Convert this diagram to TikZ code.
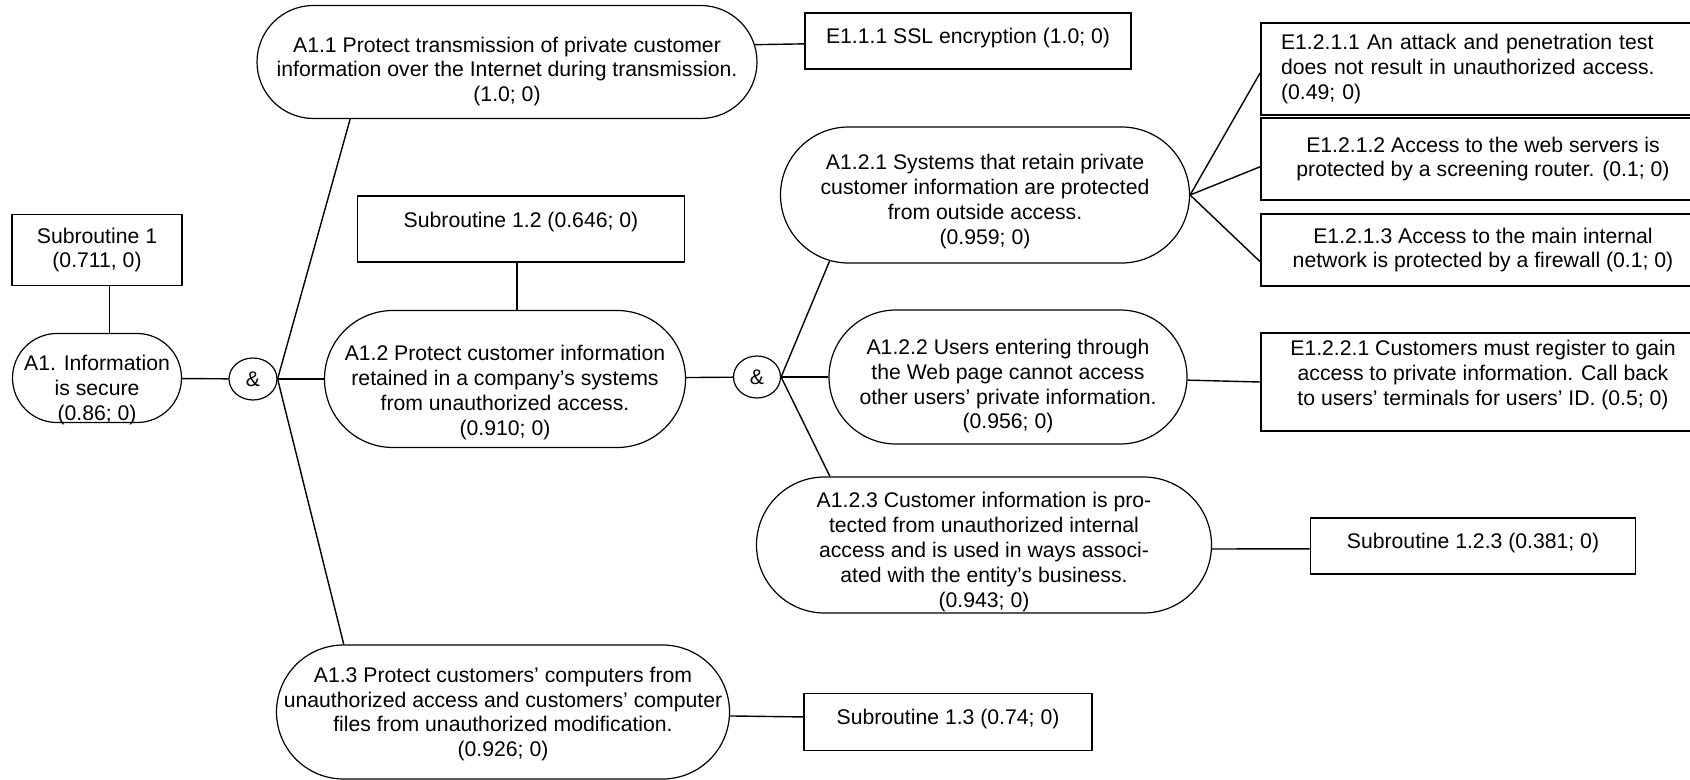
\documentclass[tikz,border=0pt]{standalone}
\usepackage{fontspec}
\setmainfont{Liberation Sans}
\usetikzlibrary{shapes.misc,shapes.geometric}

% goal text, lowered inside its stadium without changing the stadium size
\newcommand{\goaltext}[2]{\raisebox{-#1}[0pt][0pt]{\begin{tabular}{@{}c@{}}#2\end{tabular}}}
\newcommand{\padbot}[1]{\rule[-#1]{0pt}{#1}}

\tikzset{
  goal/.style={rounded rectangle, draw, line width=0.6pt, inner sep=0pt},
  evid/.style={rectangle, draw, line width=0.9pt, align=center, inner sep=0pt},
  andgate/.style={ellipse, draw, line width=0.6pt, inner sep=0pt, minimum height=21pt},
  link/.style={line width=0.7pt}
}

\begin{document}
\begin{tikzpicture}[x=0.5pt,y=-0.5pt,font=\fontsize{10.6}{12.4}\selectfont]
  \useasboundingbox (0,0) rectangle (1690,780);

  \node [evid,minimum width=85pt,minimum height=35.5pt] (sub1) at (97,250) {Subroutine 1\\(0.711, 0)};
  \node [goal,minimum width=84.5pt,minimum height=44.5pt] (a1) at (97,378) {\goaltext{9pt}{A1. Information\\is secure\\(0.86; 0)}};
  \node [andgate,minimum width=24pt] (and1) at (253,379) {\&};

  \node [goal,minimum width=250pt,minimum height=56.5pt] (a11) at (507,62)
    {\goaltext{7.7pt}{A1.1 Protect transmission of private customer\\information over the Internet during transmission.\\(1.0; 0)}};
  \node [evid,minimum width=163pt,minimum height=28pt,text depth=5pt] (e111) at (968,41) {E1.1.1 SSL encryption (1.0; 0)};

  \node [evid,minimum width=163.5pt,minimum height=33pt,text depth=9pt] (sub12) at (521,229) {Subroutine 1.2 (0.646; 0)};
  \node [goal,minimum width=180.5pt,minimum height=68.5pt] (a12) at (505,379)
    {\goaltext{9.8pt}{A1.2 Protect customer information\\retained in a company’s systems\\from unauthorized access.\\(0.910; 0)}};
  \node [andgate,minimum width=23.5pt] (and2) at (757,377) {\&};

  \node [goal,minimum width=204.5pt,minimum height=68pt] (a121) at (985,195)
    {\goaltext{6.3pt}{A1.2.1 Systems that retain private\\customer information are protected\\from outside access.\\(0.959; 0)}};
  \node [evid,minimum width=222pt,minimum height=46pt,text width=202pt,align=left] (e1211) at (1483,69)
    {E1.2.1.1 An attack and penetration test\\does not result in unauthorized access.\\(0.49; 0)};
  \node [evid,minimum width=222pt,minimum height=41pt] (e1212) at (1483,159)
    {E1.2.1.2 Access to the web servers is\\protected by a screening router. (0.1; 0)};
  \node [evid,minimum width=222pt,minimum height=36pt] (e1213) at (1483,250)
    {E1.2.1.3 Access to the main internal\\network is protected by a firewall (0.1; 0)};

  \node [goal,minimum width=179pt,minimum height=67pt] (a122) at (1008,377)
    {\goaltext{7.6pt}{A1.2.2 Users entering through\\the Web page cannot access\\other users’ private information.\\(0.956; 0)}};
  \node [evid,minimum width=222pt,minimum height=49pt] (e1221) at (1483,382)
    {E1.2.2.1 Customers must register to gain\\access to private information. Call back\\to users’ terminals for users’ ID. (0.5; 0)\padbot{9.2pt}};

  \node [goal,minimum width=227.5pt,minimum height=68pt] (a123) at (984,545)
    {\goaltext{6.5pt}{A1.2.3 Customer information is pro-\\tected from unauthorized internal\\access and is used in ways associ-\\ated with the entity’s business.\\(0.943; 0)}};
  \node [evid,minimum width=162.5pt,minimum height=28pt,text depth=5pt] (sub123) at (1473,546) {Subroutine 1.2.3 (0.381; 0)};

  \node [goal,minimum width=226.5pt,minimum height=67pt] (a13) at (503,712)
    {\goaltext{4pt}{A1.3 Protect customers’ computers from\\unauthorized access and customers’ computer\\files from unauthorized modification.\\(0.926; 0)}};
  \node [evid,minimum width=144pt,minimum height=28.5pt,text depth=5pt] (sub13) at (948,722) {Subroutine 1.3 (0.74; 0)};

  \draw [link] (sub1.-71) -- (sub1.-71 |- a1.north);
  \draw [link] (a1) -- (and1);
  \draw [link] (and1.east) -- (a11.200);
  \draw [link] (and1.east) -- (a12.west);
  \draw [link] (and1.east) -- (a13.157);
  \draw [link] (a11.4) -- (e111.181);

  \draw [link] (sub12.-97) -- (sub12.-97 |- a12.north);
  \draw [link] (a12) -- (and2);
  \draw [link] (and2.east) -- (a121.203);
  \draw [link] (and2.east) -- (a122.west);
  \draw [link] (and2.east) -- (a123.156);

  \draw [link] (a121.east) -- (e1211.181);
  \draw [link] (a121.east) -- (e1212.182);
  \draw [link] (a121.east) -- (e1213.183);
  \draw [link] (a122.-1) -- (e1221.west);
  \draw [link] (a123.-1) -- (sub123.181);
  \draw [link] (a13.-1) -- (sub13.178);
\end{tikzpicture}
\end{document}
